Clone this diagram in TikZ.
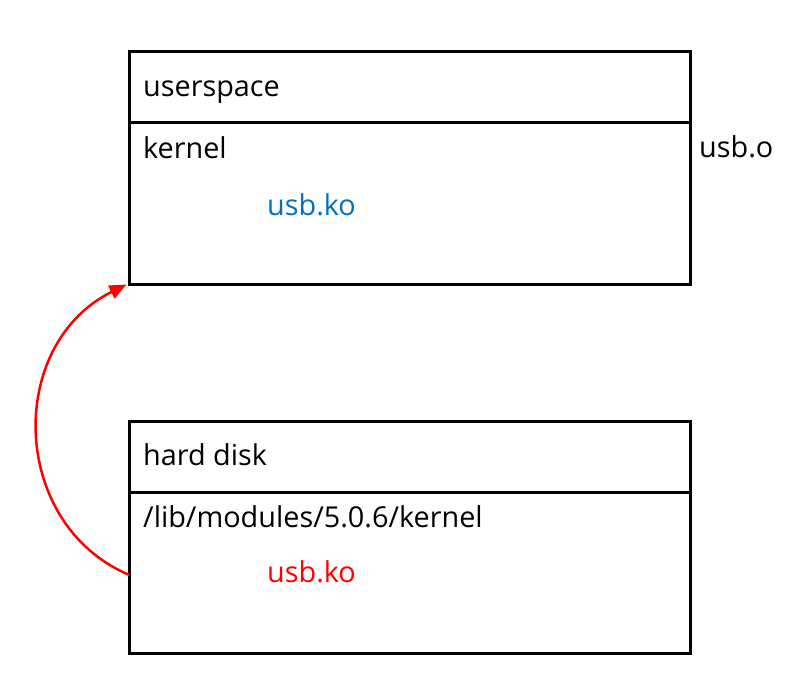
\documentclass[tikz,border=0pt]{standalone}
\usepackage{fontspec}
\setmainfont{Open Sans}
\usetikzlibrary{arrows.meta,calc}
\definecolor{kblue}{RGB}{0,112,192}
\begin{document}
\begin{tikzpicture}[x=1pt,y=-1pt,
  box/.style={draw, line width=3pt, minimum width=561pt, minimum height=233pt, inner sep=0pt, outer sep=0pt, anchor=north west},
  sep/.style={line width=3pt},
  lbl/.style={anchor=base west, inner sep=0pt, font=\fontsize{28.8}{34}\selectfont},
  load/.style={red, line width=2.5pt, -{Triangle[length=17pt,width=14pt]}}]
\useasboundingbox (0,0) rectangle (803,673);
\node[box] (top) at (129.5,51.5) {};
\node[box, minimum height=232pt] (hd) at (129.5,421.5) {};
\draw[sep] ($(top.north west)+(0,71)$) -- ($(top.north east)+(0,71)$);
\draw[sep] ($(hd.north west)+(0,71)$) -- ($(hd.north east)+(0,71)$);
\node[lbl] (us) at (143,96) {userspace};
\node[lbl] (kn) at (143,158) {kernel};
\node[lbl, text=kblue] (ko1) at (267,215) {usb.ko};
\node[lbl] (uo) at (699,157) {usb.o};
\node[lbl] (dk) at (143,465) {hard disk};
\node[lbl] (lib) at (143,527) {/lib/modules/5.0.6/kernel};
\node[lbl, text=red] (ko2) at (267,582) {usb.ko};
\coordinate (src) at ($(hd.north west)+(0,153.5)$);
\coordinate (dst) at ($(top.south west)+(-3,0)$);
\draw[load] (src) .. controls (10,525) and (5,345) .. (dst);
\end{tikzpicture}
\end{document}
